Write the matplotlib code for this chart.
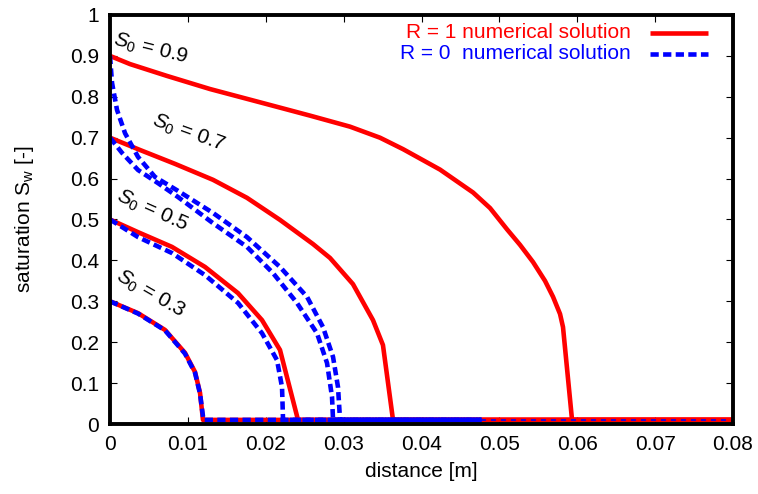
import matplotlib
matplotlib.use("Agg")
import matplotlib.pyplot as plt
from matplotlib.ticker import FixedLocator, FixedFormatter

plt.rcParams['font.family'] = ['Liberation Sans', 'DejaVu Sans']
plt.rcParams['mathtext.fontset'] = 'custom'
plt.rcParams['mathtext.rm'] = 'Liberation Sans'
plt.rcParams['mathtext.it'] = 'Liberation Sans:italic'

# ---- data ----
base_y = 0.01
x_end = 0.08
blue_end = 0.0477

red_09_x = [0, 0.00257, 0.00732, 0.01284, 0.02016, 0.02568, 0.03082, 0.03467, 0.03763, 0.04238, 0.04662,
            0.0488, 0.05098, 0.05265, 0.05432, 0.05586, 0.05689, 0.05779, 0.05817, 0.05933]
red_09_y = [0.9, 0.880, 0.851, 0.819, 0.782, 0.754, 0.727, 0.700, 0.672, 0.622, 0.566,
            0.528, 0.476, 0.438, 0.396, 0.350, 0.311, 0.269, 0.237, base_y]

red_07_x = [0, 0.00385, 0.00835, 0.01323, 0.01759, 0.02183, 0.02607, 0.02825, 0.0312, 0.03377, 0.03505, 0.03634]
red_07_y = [0.7, 0.670, 0.636, 0.597, 0.553, 0.499, 0.440, 0.406, 0.342, 0.254, 0.193, base_y]

red_05_x = [0, 0.0036, 0.00796, 0.0122, 0.01644, 0.01952, 0.02183, 0.02414]
red_05_y = [0.5, 0.469, 0.433, 0.384, 0.320, 0.254, 0.181, base_y]

red_03_x = [0, 0.0036, 0.00706, 0.00963, 0.01092, 0.01156, 0.01194]
red_03_y = [0.3, 0.271, 0.230, 0.174, 0.127, 0.076, base_y]

blue_09_x = [0, 0.00026, 0.0009, 0.00193, 0.0036, 0.00578, 0.00873, 0.01323, 0.01759, 0.02183,
             0.0253, 0.02735, 0.02864, 0.02928, 0.02954]
blue_09_y = [0.9, 0.834, 0.768, 0.711, 0.653, 0.604, 0.570, 0.516, 0.457, 0.384,
             0.311, 0.237, 0.164, 0.090, base_y]

blue_07_x = [0, 0.00026, 0.00154, 0.0036, 0.00616, 0.00873, 0.01323, 0.01759, 0.02093, 0.02401,
             0.02658, 0.02787, 0.02851, 0.02864]
blue_07_y = [0.7, 0.694, 0.663, 0.621, 0.589, 0.555, 0.491, 0.433, 0.369, 0.296,
             0.222, 0.149, 0.066, base_y]

blue_05_x = [0, 0.0036, 0.00796, 0.0122, 0.01644, 0.01952, 0.02145, 0.02209, 0.02222]
blue_05_y = [0.5, 0.457, 0.418, 0.364, 0.296, 0.222, 0.156, 0.090, base_y]

blue_03_x = [0, 0.0036, 0.00706, 0.00963, 0.01092, 0.01156, 0.0120]
blue_03_y = [0.3, 0.270, 0.229, 0.172, 0.125, 0.074, base_y]

labels_text = [r'$S_0$ = 0.9', r'$S_0$ = 0.7', r'$S_0$ = 0.5', r'$S_0$ = 0.3']
labels_x = [0.0052, 0.0101, 0.0054, 0.0052]
labels_y = [0.918, 0.712, 0.522, 0.318]
labels_rot = [-14, -20, -24, -30]

xticks = [0, 0.01, 0.02, 0.03, 0.04, 0.05, 0.06, 0.07, 0.08]
xtick_labels = ['0', '0.01', '0.02', '0.03', '0.04', '0.05', '0.06', '0.07', '0.08']
yticks = [0, 0.1, 0.2, 0.3, 0.4, 0.5, 0.6, 0.7, 0.8, 0.9, 1.0]
ytick_labels = ['0', '0.1', '0.2', '0.3', '0.4', '0.5', '0.6', '0.7', '0.8', '0.9', '1']

RED = '#ff0000'
BLUE = '#0000ff'
FS = 15

fig = plt.figure(figsize=(7.58, 4.94), dpi=100)
ax = fig.add_axes([110 / 758, 70 / 494, 623 / 758, 409 / 494])

lw = 3.3
dash = (1.8, 0.95)

def ext(xs, ys, xe):
    return list(xs) + [xe], list(ys) + [base_y]

for xs, ys in [(red_09_x, red_09_y), (red_07_x, red_07_y), (red_05_x, red_05_y), (red_03_x, red_03_y)]:
    X, Y = ext(xs, ys, x_end)
    ax.plot(X, Y, color=RED, lw=lw, solid_joinstyle='round', zorder=3)

# thin blue tail along the baseline
ax.plot([blue_end, x_end], [base_y, base_y], color=BLUE, lw=1.2, linestyle=(0, (3, 3)), zorder=5)

for xs, ys in [(blue_09_x, blue_09_y), (blue_07_x, blue_07_y), (blue_05_x, blue_05_y), (blue_03_x, blue_03_y)]:
    X, Y = ext(xs, ys, blue_end)
    ax.plot(X, Y, color=BLUE, lw=lw, linestyle=(0, dash), dash_capstyle='butt',
            dash_joinstyle='round', zorder=4)

for t, x, y, r in zip(labels_text, labels_x, labels_y, labels_rot):
    ax.text(x, y, t, rotation=r, rotation_mode='anchor', ha='center', va='center',
            fontsize=FS, color='black', zorder=6)

# legend (gnuplot style: right-aligned text, sample on the right)
ax.text(0.836, 0.956, 'R = 1 numerical solution', transform=ax.transAxes,
        ha='right', va='center', color=RED, fontsize=FS)
ax.text(0.836, 0.905, 'R = 0  numerical solution', transform=ax.transAxes,
        ha='right', va='center', color=BLUE, fontsize=FS)
ax.plot([0.867, 0.96], [0.956, 0.956], transform=ax.transAxes, color=RED, lw=lw,
        solid_capstyle='butt', clip_on=False)
ax.plot([0.867, 0.96], [0.905, 0.905], transform=ax.transAxes, color=BLUE, lw=lw,
        linestyle=(0, dash), dash_capstyle='butt', clip_on=False)

ax.set_xlim(0, 0.08)
ax.set_ylim(0, 1)
ax.xaxis.set_major_locator(FixedLocator(xticks))
ax.xaxis.set_major_formatter(FixedFormatter(xtick_labels))
ax.yaxis.set_major_locator(FixedLocator(yticks))
ax.yaxis.set_major_formatter(FixedFormatter(ytick_labels))
ax.tick_params(direction='in', length=5, width=0.8, top=True, right=True,
               labelsize=FS, pad=8, colors='black')
for s in ax.spines.values():
    s.set_linewidth(2.8)
    s.set_zorder(7)

ax.set_xlabel('distance [m]', fontsize=FS, labelpad=6)
ax.set_ylabel(r'saturation S$_{\rm w}$ [-]', fontsize=FS, labelpad=24)

fig.savefig('out.png', dpi=100)
